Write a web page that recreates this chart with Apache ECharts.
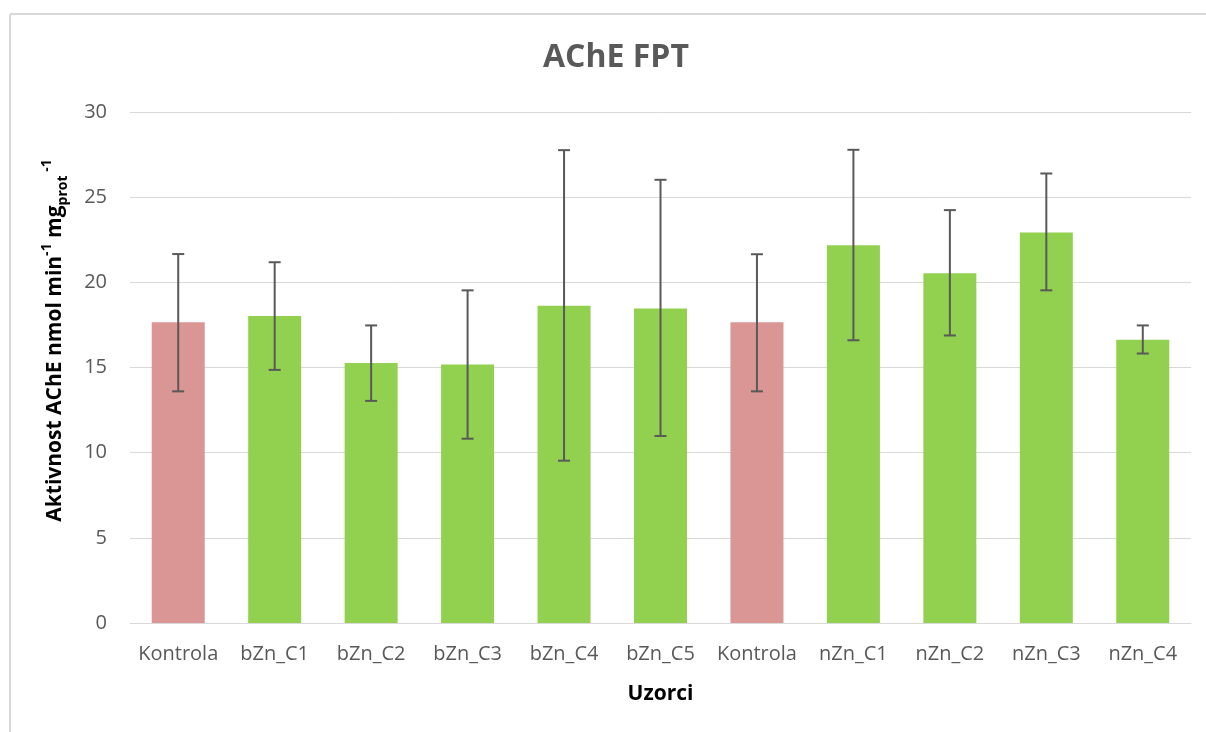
<!DOCTYPE html>
<html>
<head>
<meta charset="utf-8">
<script src="https://cdn.jsdelivr.net/npm/echarts@6/dist/echarts.min.js"></script>
<style>
  html, body { margin: 0; padding: 0; background: #fff; }
  #chart { width: 1206px; height: 732px; }
</style>
</head>
<body>
<div id="chart"></div>
<script>
const categories = ['Kontrola', 'bZn_C1', 'bZn_C2', 'bZn_C3', 'bZn_C4', 'bZn_C5', 'Kontrola', 'nZn_C1', 'nZn_C2', 'nZn_C3', 'nZn_C4'];
const values     = [17.65, 18.02, 15.27, 15.18, 18.63, 18.47, 17.65, 22.18, 20.53, 22.92, 16.63];
const errLow     = [13.60, 14.86, 13.04, 10.82, 9.53, 10.98, 13.60, 16.60, 16.88, 19.53, 15.82];
const errHigh    = [21.66, 21.18, 17.47, 19.53, 27.76, 26.02, 21.65, 27.78, 24.24, 26.39, 17.47];
const isControl  = [true, false, false, false, false, false, true, false, false, false, false];
const yTicks     = [0, 5, 10, 15, 20, 25, 30];

const FONT = 'Open Sans';
const chart = echarts.init(document.getElementById('chart'), null, { renderer: 'canvas' });

const barData = values.map((v, i) => ({
  value: v,
  itemStyle: { color: isControl[i] ? '#DA9694' : '#92D050' }
}));
const errData = categories.map((c, i) => [i, errLow[i], errHigh[i]]);

chart.setOption({
  backgroundColor: '#ffffff',
  animation: false,
  title: {
    text: 'AChE FPT',
    left: 538,
    top: 37,
    textStyle: { fontFamily: FONT, fontSize: 32, fontWeight: 'bold', color: '#595959' }
  },
  grid: { left: 130, right: 15, top: 112, bottom: 109, containLabel: false },
  xAxis: {
    type: 'category',
    data: categories,
    axisLine: { lineStyle: { color: '#d9d9d9', width: 1 } },
    axisTick: { show: false },
    axisLabel: { color: '#595959', fontFamily: FONT, fontSize: 20, margin: 21, interval: 0 },
    name: 'Uzorci',
    nameLocation: 'middle',
    nameGap: 61,
    nameTextStyle: { fontFamily: FONT, fontSize: 21, fontWeight: 'bold', color: '#000000' }
  },
  yAxis: {
    type: 'value',
    min: 0,
    max: 30,
    interval: 5,
    axisLine: { show: false },
    axisTick: { show: false },
    splitLine: { lineStyle: { color: '#d9d9d9', width: 1 } },
    axisLabel: {
      color: '#595959', fontFamily: FONT, fontSize: 20, margin: 23,
      formatter: v => (yTicks.indexOf(v) >= 0 ? String(v) : '')
    },
    name: '{m|Aktivnost AChE nmol min}{sup|-1}{m| mg}{sub|prot}{sup| -1}',
    nameLocation: 'middle',
    nameRotate: 90,
    nameGap: 60,
    nameTextStyle: {
      fontFamily: FONT, fontSize: 21, fontWeight: 'bold', color: '#000000',
      padding: [0, 0, 0, 54],
      rich: {
        m:   { fontFamily: FONT, fontSize: 21, fontWeight: 'bold', color: '#000000', lineHeight: 30 },
        sup: { fontFamily: FONT, fontSize: 14, fontWeight: 'bold', color: '#000000', verticalAlign: 'top', lineHeight: 30 },
        sub: { fontFamily: FONT, fontSize: 14, fontWeight: 'bold', color: '#000000', verticalAlign: 'bottom', lineHeight: 30 }
      }
    }
  },
  series: [
    {
      type: 'bar',
      data: barData,
      barWidth: 53,
      itemStyle: { borderWidth: 0 }
    },
    {
      type: 'custom',
      data: errData,
      z: 10,
      renderItem: function (params, api) {
        const x = api.value(0);
        const lo = api.coord([x, api.value(1)]);
        const hi = api.coord([x, api.value(2)]);
        const cap = 6;
        const style = { stroke: '#595959', lineWidth: 2 };
        return {
          type: 'group',
          children: [
            { type: 'line', shape: { x1: hi[0], y1: hi[1], x2: lo[0], y2: lo[1] }, style },
            { type: 'line', shape: { x1: hi[0] - cap, y1: hi[1], x2: hi[0] + cap, y2: hi[1] }, style },
            { type: 'line', shape: { x1: lo[0] - cap, y1: lo[1], x2: lo[0] + cap, y2: lo[1] }, style }
          ]
        };
      }
    }
  ],
  graphic: [
    { type: 'line', shape: { x1: 10, y1: 14, x2: 1206, y2: 14 }, style: { stroke: '#d9d9d9', lineWidth: 2 } },
    { type: 'line', shape: { x1: 10, y1: 14, x2: 10, y2: 732 }, style: { stroke: '#d9d9d9', lineWidth: 2 } }
  ]
});
</script>
</body>
</html>
